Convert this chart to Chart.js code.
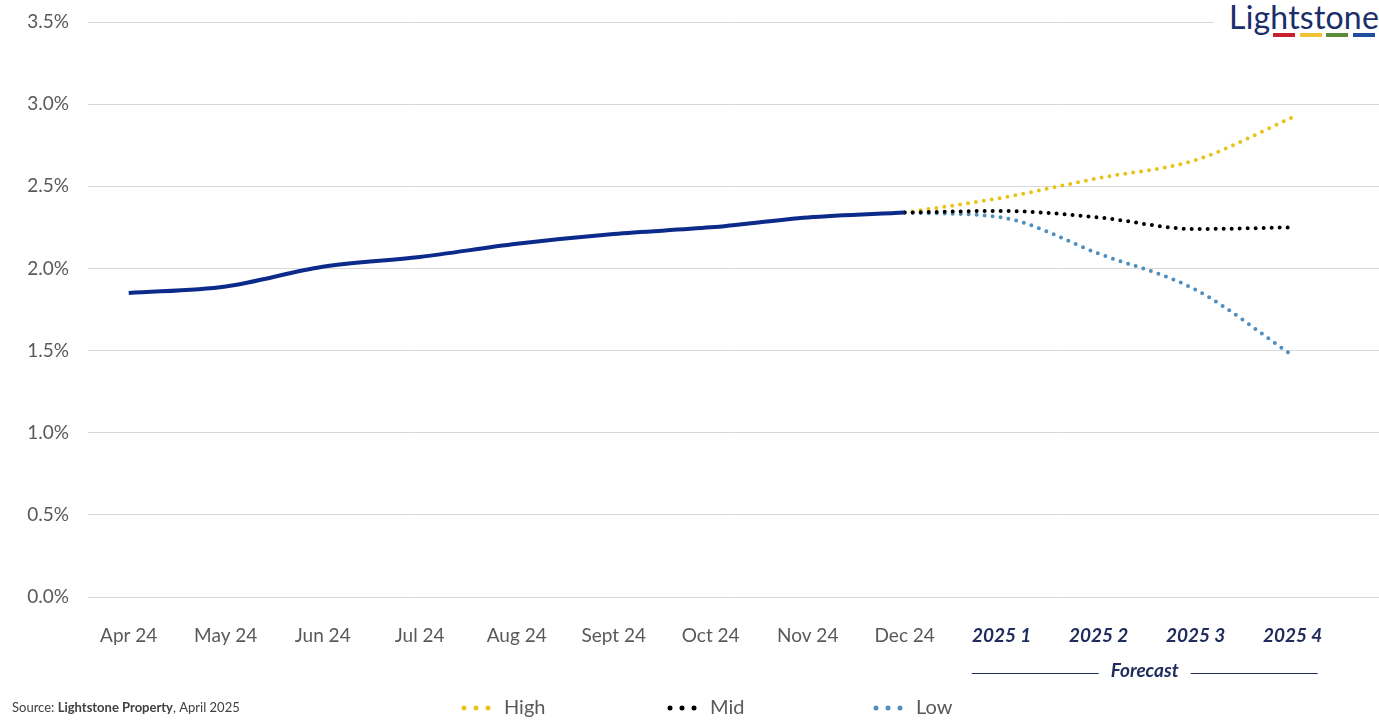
<!DOCTYPE html>
<html>
<head>
<meta charset="utf-8">
<script src="https://cdn.jsdelivr.net/npm/chart.js@4.4.1/dist/chart.umd.min.js"></script>
<style>
  html, body { margin: 0; padding: 0; background: #fff; }
  #wrap { position: relative; width: 1379px; height: 724px; }
  #chart { display: block; }
  #logo { position: absolute; left: 1214px; top: 0; width: 165px; height: 44px; background: #fff; }
  #logo .name { position: absolute; left: 15px; top: -3px; font: 32px Lato, sans-serif; color: #1c2d6b; letter-spacing: 0.2px; }
  #logo .bar { position: absolute; top: 33px; height: 4px; width: 22px; }
</style>
</head>
<body>
<div id="wrap">
  <canvas id="chart" width="1379" height="724"></canvas>
  <div id="logo">
    <span class="name">Lightstone</span>
    <div class="bar" style="left:59px;background:#c8202f"></div>
    <div class="bar" style="left:86px;background:#f1c232"></div>
    <div class="bar" style="left:112px;background:#5b8c3a"></div>
    <div class="bar" style="left:139px;background:#1f4e9c"></div>
  </div>
</div>
<script>
// categories
const labels = ['Apr 24', 'May 24', 'Jun 24', 'Jul 24', 'Aug 24', 'Sept 24', 'Oct 24', 'Nov 24', 'Dec 24',
                '2025 1', '2025 2', '2025 3', '2025 4'];
const forecastStart = 9;

// values in %
const actual = [1.85, 1.89, 2.01, 2.07, 2.15, 2.21, 2.25, 2.31, 2.34, null, null, null, null];
const high   = [null, null, null, null, null, null, null, null, 2.34, 2.43, 2.55, 2.66, 2.92];
const mid    = [null, null, null, null, null, null, null, null, 2.34, 2.35, 2.31, 2.24, 2.25];
const low    = [null, null, null, null, null, null, null, null, 2.34, 2.31, 2.09, 1.87, 1.47];

const yTicks = [0, 0.5, 1.0, 1.5, 2.0, 2.5, 3.0, 3.5];

const toPoints = arr => arr.map((v, i) => ({ x: i, y: v })).filter(p => p.y !== null);

const navy = '#0b2a8a';
const gray = '#595959';
const fcColor = '#1f2b5c';

const dotted = (label, data, color) => ({
  label, data: toPoints(data), borderColor: color, backgroundColor: color,
  borderWidth: 4, borderDash: [0, 8], borderCapStyle: 'round',
  pointRadius: 0, cubicInterpolationMode: 'monotone', fill: false
});

// forecast bracket, legend and source line
const extras = {
  id: 'extras',
  afterDraw(chart) {
    const ctx = chart.ctx;
    const xs = chart.scales.x;
    ctx.save();

    // Forecast bracket
    const x0 = xs.getPixelForValue(forecastStart) - 30;
    const x1 = xs.getPixelForValue(labels.length - 1) + 25;
    const cx = (x0 + x1) / 2;
    const y = 673;
    ctx.font = 'italic bold 19px Lato, sans-serif';
    ctx.fillStyle = fcColor;
    ctx.textAlign = 'center';
    ctx.textBaseline = 'middle';
    ctx.fillText('Forecast', cx, y - 2);
    const half = ctx.measureText('Forecast').width / 2 + 12;
    ctx.strokeStyle = fcColor;
    ctx.lineWidth = 1;
    ctx.beginPath();
    ctx.moveTo(x0, y + 0.5); ctx.lineTo(cx - half, y + 0.5);
    ctx.moveTo(cx + half, y + 0.5); ctx.lineTo(x1, y + 0.5);
    ctx.stroke();

    // legend
    const items = [['High', '#e8c41a', 461], ['Mid', '#000000', 667], ['Low', '#4f8fc0', 873]];
    const ly = 708;
    items.forEach(([name, color, lx]) => {
      ctx.fillStyle = color;
      for (let i = 0; i < 3; i++) {
        ctx.beginPath();
        ctx.arc(lx + 3 + i * 12, ly, 2.5, 0, Math.PI * 2);
        ctx.fill();
      }
      ctx.fillStyle = gray;
      ctx.font = '20px Lato, sans-serif';
      ctx.textAlign = 'left';
      ctx.fillText(name, lx + 43, ly);
    });

    // source
    ctx.fillStyle = '#404040';
    ctx.textAlign = 'left';
    let sx = 12;
    [['Source: ', '13px'], ['Lightstone Property', 'bold 13px'], [', April 2025', '13px']].forEach(([t, f]) => {
      ctx.font = f + ' Lato, sans-serif';
      ctx.fillText(t, sx, ly);
      sx += ctx.measureText(t).width;
    });
    ctx.restore();
  }
};

new Chart(document.getElementById('chart'), {
  type: 'line',
  data: {
    datasets: [
      { label: 'Actual', data: toPoints(actual), borderColor: navy, backgroundColor: navy,
        borderWidth: 4, pointRadius: 0, cubicInterpolationMode: 'monotone', fill: false },
      dotted('Mid', mid, '#000000'),
      dotted('High', high, '#e8c41a'),
      dotted('Low', low, '#4f8fc0')
    ]
  },
  options: {
    responsive: false,
    animation: false,
    layout: { padding: { top: 22, right: 0, bottom: 0, left: 0 } },
    plugins: { legend: { display: false }, tooltip: { enabled: false } },
    scales: {
      x: {
        type: 'linear',
        min: -0.42,
        max: 12.89,
        afterBuildTicks: s => { s.ticks = labels.map((_, i) => ({ value: i })); },
        afterFit: s => { s.height = 127; s.paddingLeft = 0; s.paddingRight = 0; },
        grid: { display: false },
        border: { display: false },
        ticks: {
          padding: 19,
          autoSkip: false,
          maxRotation: 0,
          callback: v => labels[v],
          color: c => (c.index >= forecastStart ? fcColor : gray),
          font: c => (c.index >= forecastStart
            ? { family: 'Lato, sans-serif', size: 19, style: 'italic', weight: 'bold' }
            : { family: 'Lato, sans-serif', size: 19 })
        }
      },
      y: {
        min: 0,
        max: 3.5,
        afterBuildTicks: s => { s.ticks = yTicks.map(v => ({ value: v })); },
        afterFit: s => { s.width = 88; s.paddingTop = 0; s.paddingBottom = 0; },
        grid: { color: '#d9d9d9', lineWidth: 1, drawTicks: false },
        border: { display: false },
        ticks: {
          padding: 19,
          color: gray,
          font: { family: 'Lato, sans-serif', size: 19 },
          callback: v => v.toFixed(1) + '%'
        }
      }
    }
  },
  plugins: [extras]
});
</script>
</body>
</html>
